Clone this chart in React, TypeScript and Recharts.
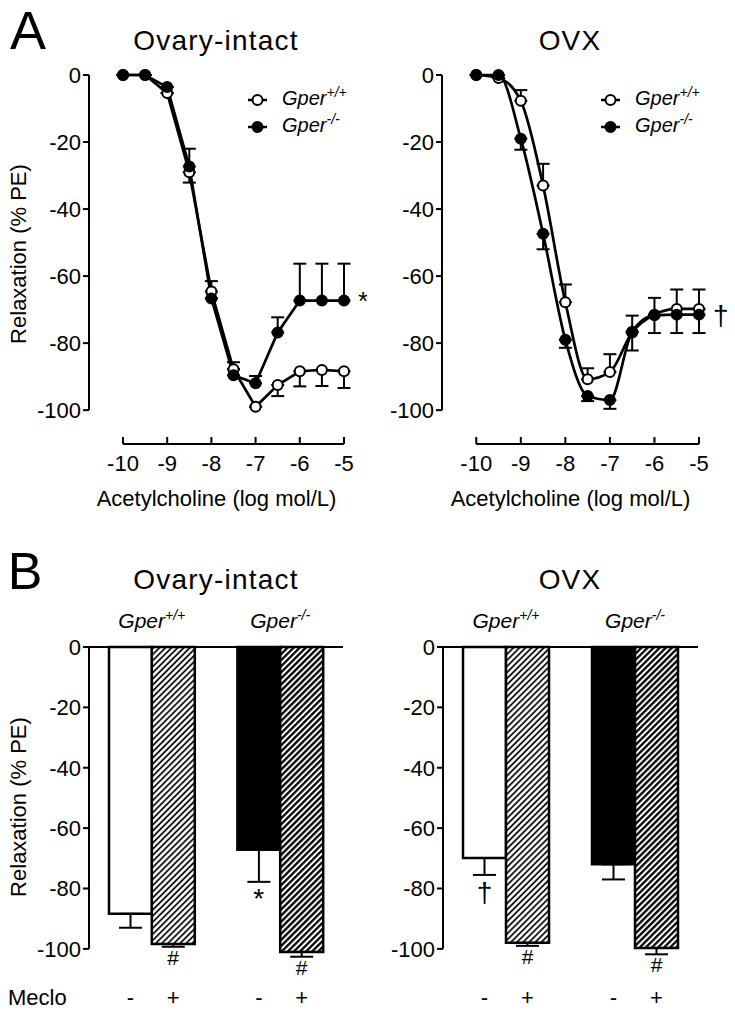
import React from "react";
import {
  LineChart,
  Line,
  BarChart,
  Bar,
  Cell,
  XAxis,
  YAxis,
  ErrorBar,
  ReferenceLine,
  ReferenceDot,
  ReferenceArea,
  Legend,
  Label,
} from "recharts";

const FONT = "'Liberation Sans', Arial, Helvetica, sans-serif";

// Panel A: concentration-response, x = log mol/L
const logDose = [-10, -9.5, -9, -8.5, -8, -7.5, -7, -6.5, -6, -5.5, -5];
const doseTicks = [-10, -9, -8, -7, -6, -5];
const relaxTicks = [0, -20, -40, -60, -80, -100];

// ovary-intact (wt errors point down, ko errors point up)
const intactWt = [0, 0, -5.4, -29, -64.6, -87.8, -99, -92.5, -88.4, -88, -88.4];
const intactWtErr = [0, 0, 0, 3.1, 2, 0, 0, 3.3, 4.5, 4.8, 5];
const intactKo = [0, 0, -3.6, -27.3, -66.7, -89.6, -92, -76.8, -67.3, -67.3, -67.3];
const intactKoErr = [0, 0, 0, 5.3, 5.2, 3.9, 2.2, 4.5, 11, 11, 11];

// OVX (wt errors point up, ko errors point down)
const ovxWt = [0, -0.9, -7.7, -33, -67.8, -90.8, -88.6, -76.8, -71.5, -69.8, -69.8];
const ovxWtErr = [0, 0, 3.2, 6.5, 5.3, 3.3, 5.3, 5, 5, 5.8, 5.8];
const ovxKo = [0, 0, -19, -47.4, -79, -95.8, -97, -76.6, -71.7, -71.5, -71.5];
const ovxKoErr = [0, 0, 3.3, 4.6, 2.4, 1.5, 2.6, 5.6, 5.3, 5.5, 5.5];

// Panel B: bars, with an empty slot between the two genotypes
const barSlots = ["wt-", "wt+", "gap", "ko-", "ko+"];
const mecloLabels = ["-", "+", "", "-", "+"];
const intactBars = [-88.4, -98.4, null, -67.2, -101];
const intactBarErr = [4.6, 0.9, null, 10.6, 1.6];
const intactMarks = ["", "#", "", "*", "#"];
const ovxBars = [-69.9, -98, null, -72, -99.7];
const ovxBarErr = [5.6, 1, null, 5, 2.1];
const ovxMarks = ["†", "#", "", "", "#"];
const barFills = ["#fff", "url(#hatchA)", "none", "#000", "url(#hatchB)"];
const groups = [
  { from: "wt-", to: "wt+", sup: "+/+" },
  { from: "ko-", to: "ko+", sup: "-/-" },
];

const DoseTick = (props: any) => {
  const { x, y, payload } = props;
  return (
    <g>
      <line x1={x} x2={x} y1={y} y2={y - 7} stroke="#000" strokeWidth={2} />
      <text x={x} y={y + 27} textAnchor="middle" fontSize={22} fontFamily={FONT} fill="#000">
        {payload.value}
      </text>
    </g>
  );
};

const GroupLabel = (props: any) => {
  const { viewBox, sup } = props;
  return (
    <text x={viewBox.x + viewBox.width / 2} y={viewBox.y - 19} textAnchor="middle" fontSize={21} fontFamily={FONT} fill="#000">
      <tspan fontStyle="italic">Gper</tspan>
      <tspan fontStyle="italic" fontSize={14} dy={-8}>
        {sup}
      </tspan>
    </text>
  );
};

const MecloTick = (props: any) => {
  const { x, y, payload } = props;
  return (
    <text x={x} y={y + 35} textAnchor="middle" fontSize={22} fontFamily={FONT} fill="#000">
      {mecloLabels[barSlots.indexOf(payload.value)]}
    </text>
  );
};

const yTitle = (centre: number) => (props: any) => {
  const { viewBox } = props;
  return (
    <text
      transform={`translate(${viewBox.x + 18}, ${viewBox.y + centre}) rotate(-90)`}
      textAnchor="middle"
      dominantBaseline="central"
      fontSize={22}
      fontFamily={FONT}
      fill="#000"
    >
      Relaxation (% PE)
    </text>
  );
};

const LegendBox = (props: any) => {
  const items = [...(props.payload || [])].sort((a: any, b: any) => (a.dataKey === "wt" ? -1 : b.dataKey === "wt" ? 1 : 0));
  return (
    <div style={{ fontFamily: FONT, fontSize: 20, lineHeight: "25px" }}>
      {items.map((p: any) => (
        <div key={p.dataKey} style={{ display: "flex", alignItems: "center", whiteSpace: "nowrap" }}>
          <svg width={35} height={14}>
            <line x1={1} x2={20} y1={7} y2={7} stroke="#000" strokeWidth={2.5} />
            <circle cx={10.5} cy={7} r={5} fill={p.dataKey === "wt" ? "#fff" : "#000"} stroke="#000" strokeWidth={2} />
          </svg>
          <span style={{ fontStyle: "italic" }}>
            Gper
            <span style={{ fontSize: 14, position: "relative", top: -8 }}>{p.dataKey === "wt" ? "+/+" : "-/-"}</span>
          </span>
        </div>
      ))}
    </div>
  );
};

const tickStyle = { fill: "#000", fontSize: 22, fontFamily: FONT };

interface CurveProps {
  wt: number[];
  wtErr: number[];
  ko: number[];
  koErr: number[];
  wtUp: boolean;
  curve: "linear" | "monotone";
  mark: string;
  showY: boolean;
}

const Curves: React.FC<CurveProps> = ({ wt, wtErr, ko, koErr, wtUp, curve, mark, showY }) => {
  const data = logDose.map((d, i) => ({
    dose: d,
    wt: wt[i],
    ko: ko[i],
    wtE: wtUp ? [0, wtErr[i]] : [wtErr[i], 0],
    koE: wtUp ? [koErr[i], 0] : [0, koErr[i]],
  }));
  const xMin = -10 - 34 / 44.2;
  const yMin = -110.1;
  const last = data.length - 1;
  return (
    <LineChart width={showY ? 367 : 382} height={514} data={data} margin={{ top: 75, left: 0, right: showY ? 23 : 36, bottom: 0 }}>
      <XAxis
        dataKey="dose"
        type="number"
        domain={[xMin, -5]}
        ticks={doseTicks}
        axisLine={false}
        tickLine={false}
        tickSize={0}
        tickMargin={0}
        height={70}
        tick={<DoseTick />}
        allowDecimals
      >
        <Label value="Acetylcholine (log mol/L)" position="insideBottom" offset={8} fill="#000" fontSize={22} fontFamily={FONT} />
      </XAxis>
      <YAxis
        type="number"
        domain={[yMin, 0]}
        ticks={relaxTicks}
        width={89}
        axisLine={false}
        tickLine={{ stroke: "#000", strokeWidth: 2 }}
        tickSize={6}
        tickMargin={2}
        tick={tickStyle}
      >
        {showY && <Label content={yTitle(179)} />}
      </YAxis>
      <ReferenceLine segment={[{ x: xMin, y: 0 }, { x: xMin, y: -100 }]} stroke="#000" strokeWidth={2} />
      <ReferenceLine segment={[{ x: -10, y: yMin }, { x: -5, y: yMin }]} stroke="#000" strokeWidth={2} />
      <Legend
        layout="vertical"
        align="center"
        verticalAlign="middle"
        content={<LegendBox />}
        wrapperStyle={{ left: 247, top: 86, width: "auto" }}
      />
      <Line
        dataKey="wt"
        type={curve}
        stroke="#000"
        strokeWidth={2.7}
        dot={{ r: 5, fill: "#fff", stroke: "#000", strokeWidth: 2 }}
        isAnimationActive={false}
      >
        <ErrorBar dataKey="wtE" direction="y" width={6.5} stroke="#000" strokeWidth={2} />
      </Line>
      <Line
        dataKey="ko"
        type={curve}
        stroke="#000"
        strokeWidth={2.7}
        dot={{ r: 5, fill: "#000", stroke: "#000", strokeWidth: 2 }}
        isAnimationActive={false}
      >
        <ErrorBar dataKey="koE" direction="y" width={6.5} stroke="#000" strokeWidth={2} />
      </Line>
      <ReferenceDot
        x={logDose[last]}
        y={ko[last]}
        r={0}
        fill="none"
        stroke="none"
        label={{ value: mark, position: "right", offset: 14, fill: "#000", fontSize: mark === "*" ? 26 : 28, fontFamily: FONT }}
      />
    </LineChart>
  );
};

interface BarsProps {
  values: (number | null)[];
  errs: (number | null)[];
  marks: string[];
  showY: boolean;
}

const Bars: React.FC<BarsProps> = ({ values, errs, marks, showY }) => {
  const data = barSlots.map((s, i) => ({
    slot: s,
    value: values[i],
    err: errs[i] === null ? null : [errs[i], 0],
  }));
  const top = 127;
  const height = 495;
  const axisH = 45;
  const yMin = -107;
  // y axis line only runs from 0 to -100
  const spine = ((height - top - axisH) * 100) / -yMin;
  return (
    <BarChart
      width={showY ? 367 : 381}
      height={height}
      data={data}
      barCategoryGap={0}
      margin={{ top, left: 0, right: showY ? 24 : 37, bottom: 0 }}
    >
      <defs>
        <pattern id="hatchA" patternUnits="userSpaceOnUse" width={4.3} height={4.3} patternTransform="rotate(45)">
          <rect width={4.3} height={4.3} fill="#fff" />
          <line x1={1} x2={1} y1={0} y2={4.3} stroke="#000" strokeWidth={1.7} />
        </pattern>
        <pattern id="hatchB" patternUnits="userSpaceOnUse" width={4.3} height={4.3} patternTransform="rotate(45)">
          <rect width={4.3} height={4.3} fill="#fff" />
          <line x1={1.2} x2={1.2} y1={0} y2={4.3} stroke="#000" strokeWidth={2.3} />
        </pattern>
      </defs>
      <XAxis
        xAxisId="cat"
        dataKey="slot"
        type="category"
        padding={{ left: 20, right: 20 }}
        axisLine={false}
        tickLine={false}
        tickSize={0}
        tickMargin={0}
        height={axisH}
        tick={<MecloTick />}
        interval={0}
      />
      <YAxis
        type="number"
        domain={[yMin, 0]}
        ticks={relaxTicks}
        width={89}
        axisLine={{ stroke: "#000", strokeWidth: 2, strokeDasharray: `${spine} 2000` }}
        tickLine={{ stroke: "#000", strokeWidth: 2 }}
        tickSize={6}
        tickMargin={2}
        tick={tickStyle}
      >
        {showY && <Label content={yTitle(160)} />}
      </YAxis>
      {groups.map((g) => (
        <ReferenceArea
          key={g.sup}
          xAxisId="cat"
          x1={g.from}
          x2={g.to}
          fill="none"
          fillOpacity={0}
          stroke="none"
          label={(p: any) => <GroupLabel {...p} sup={g.sup} />}
        />
      ))}
      <Bar xAxisId="cat" dataKey="value" stroke="#000" strokeWidth={2.5} isAnimationActive={false}>
        {data.map((d, i) => (
          <Cell key={d.slot} fill={barFills[i]} />
        ))}
        <ErrorBar dataKey="err" direction="y" width={11.5} stroke="#000" strokeWidth={2} />
      </Bar>
      <ReferenceLine xAxisId="cat" y={0} stroke="#000" strokeWidth={2} />
      {data.map((d, i) =>
        marks[i] ? (
          <ReferenceDot
            key={"m" + d.slot}
            xAxisId="cat"
            x={d.slot}
            y={(values[i] as number) - (errs[i] as number)}
            r={0}
            fill="none"
            stroke="none"
            label={{
              value: marks[i],
              position: "bottom",
              offset: marks[i] === "#" ? 3 : marks[i] === "*" ? 6 : 7,
              fill: "#000",
              fontSize: marks[i] === "#" ? 21 : 28,
              fontFamily: FONT,
            }}
          />
        ) : null
      )}
    </BarChart>
  );
};

const Heading = ({ text, cx, cy, size }: { text: string; cx: number; cy: number; size: number }) => (
  <div
    style={{
      position: "absolute",
      left: cx - 150,
      width: 300,
      top: cy - size / 2 - 2,
      textAlign: "center",
      fontSize: size,
      lineHeight: `${size + 4}px`,
      fontFamily: FONT,
      letterSpacing: size > 40 ? 0 : 1.2,
    }}
  >
    {text}
  </div>
);

export default function App() {
  return (
    <div style={{ position: "absolute", left: 0, top: 0, width: 735, height: 1015, background: "#fff", color: "#000", fontFamily: FONT }}>
      <div style={{ position: "absolute", left: 0, top: 0 }}>
        <Curves wt={intactWt} wtErr={intactWtErr} ko={intactKo} koErr={intactKoErr} wtUp={false} curve="linear" mark="*" showY />
      </div>
      <div style={{ position: "absolute", left: 353, top: 0 }}>
        <Curves wt={ovxWt} wtErr={ovxWtErr} ko={ovxKo} koErr={ovxKoErr} wtUp curve="monotone" mark="†" showY={false} />
      </div>
      <div style={{ position: "absolute", left: 0, top: 520 }}>
        <Bars values={intactBars} errs={intactBarErr} marks={intactMarks} showY />
      </div>
      <div style={{ position: "absolute", left: 354, top: 520 }}>
        <Bars values={ovxBars} errs={ovxBarErr} marks={ovxMarks} showY={false} />
      </div>
      <Heading text="A" cx={28} cy={30} size={54} />
      <Heading text="Ovary-intact" cx={216} cy={41} size={28} />
      <Heading text="OVX" cx={570} cy={41} size={28} />
      <Heading text="B" cx={25} cy={571} size={52} />
      <Heading text="Ovary-intact" cx={216} cy={580} size={28} />
      <Heading text="OVX" cx={570} cy={580} size={28} />
      <div style={{ position: "absolute", left: 8, top: 985, fontSize: 22, fontFamily: FONT }}>Meclo</div>
    </div>
  );
}
